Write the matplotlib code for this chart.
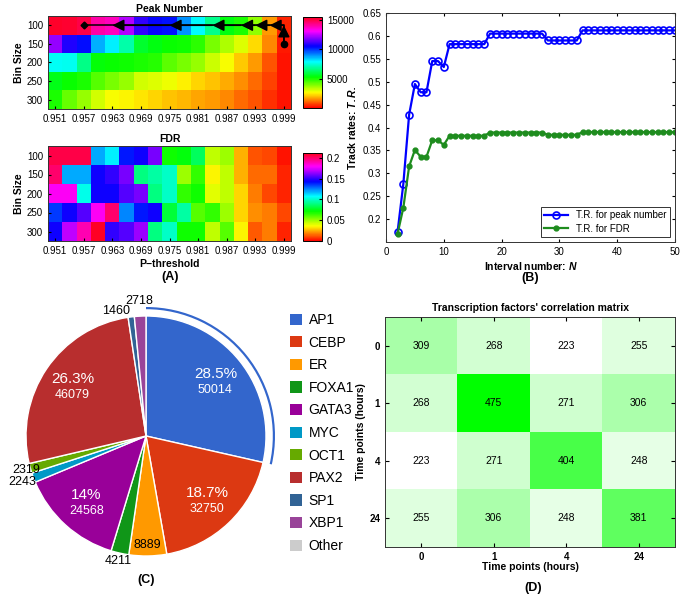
import numpy as np
import matplotlib
matplotlib.use('Agg')
import matplotlib.pyplot as plt
from matplotlib.colors import LinearSegmentedColormap
from matplotlib.patches import Wedge, Patch
from matplotlib.ticker import FuncFormatter

plt.rcParams['font.family'] = ['Liberation Sans', 'DejaVu Sans']
plt.rcParams['mathtext.fontset'] = 'custom'
plt.rcParams['mathtext.bfit'] = 'Liberation Sans:italic:bold'
plt.rcParams['mathtext.it'] = 'Liberation Sans:italic'
plt.rcParams['mathtext.bf'] = 'Liberation Sans:bold'
plt.rcParams['mathtext.rm'] = 'Liberation Sans'

# ---------------- data ----------------
p_thresholds = [0.951, 0.954, 0.957, 0.960, 0.963, 0.966, 0.969, 0.972, 0.975,
                0.978, 0.981, 0.984, 0.987, 0.990, 0.993, 0.996, 0.999]
p_tick_labels = ['0.951', '0.957', '0.963', '0.969', '0.975', '0.981', '0.987', '0.993', '0.999']
bin_sizes = [100, 150, 200, 250, 300]

peak_number = [
    [15300, 15200, 15000, 14000, 13800, 12300, 11000, 10500, 10300, 9000, 7900, 6700, 5400, 5000, 3800, 1600, 400],
    [12000, 10800, 10400, 8700, 8000, 7000, 5700, 5400, 5200, 5100, 4800, 4000, 3500, 3000, 2300, 1400, 300],
    [7800, 7700, 6600, 5300, 5200, 5100, 5000, 4900, 4300, 4000, 3700, 3200, 2700, 2100, 1600, 900, 200],
    [5500, 5200, 5000, 4400, 4000, 3700, 3100, 3000, 2800, 2500, 2200, 2000, 1800, 1500, 1100, 700, 200],
    [5000, 4200, 3700, 3100, 2700, 2600, 2400, 2200, 2000, 1900, 1700, 1600, 1400, 1100, 900, 500, 200],
]
fdr = [
    [0.205, 0.205, 0.205, 0.120, 0.110, 0.140, 0.145, 0.160, 0.070, 0.073, 0.085, 0.045, 0.050, 0.025, 0.012, 0.010, 0.003],
    [0.200, 0.120, 0.120, 0.145, 0.150, 0.160, 0.090, 0.095, 0.100, 0.050, 0.065, 0.035, 0.045, 0.025, 0.015, 0.015, 0.005],
    [0.180, 0.180, 0.105, 0.145, 0.145, 0.155, 0.160, 0.090, 0.100, 0.065, 0.070, 0.040, 0.045, 0.030, 0.018, 0.010, 0.005],
    [0.135, 0.145, 0.155, 0.180, 0.200, 0.125, 0.140, 0.145, 0.080, 0.095, 0.060, 0.065, 0.050, 0.030, 0.020, 0.018, 0.010],
    [0.145, 0.170, 0.190, 0.210, 0.150, 0.155, 0.165, 0.090, 0.100, 0.070, 0.070, 0.045, 0.060, 0.035, 0.013, 0.018, 0.005],
]
path_threshold = [0.999, 0.999, 0.996, 0.993, 0.990, 0.984, 0.975, 0.963, 0.957]
path_bin = [150, 100, 100, 100, 100, 100, 100, 100, 100]

interval_n = [2, 3, 4, 5, 6, 7, 8, 9, 10, 11, 12, 13, 14, 15, 16, 17, 18, 19, 20, 21, 22, 23, 24, 25, 26,
              27, 28, 29, 30, 31, 32, 33, 34, 35, 36, 37, 38, 39, 40, 41, 42, 43, 44, 45, 46, 47, 48, 49, 50]
tr_peak = [0.172, 0.277, 0.428, 0.495, 0.477, 0.477, 0.545, 0.545, 0.532,
           0.582, 0.582, 0.582, 0.582, 0.582, 0.582, 0.582,
           0.605, 0.605, 0.605, 0.605, 0.605, 0.605, 0.605, 0.605, 0.605, 0.605,
           0.590, 0.590, 0.590, 0.590, 0.590, 0.590,
           0.612, 0.612, 0.612, 0.612, 0.612, 0.612, 0.612, 0.612, 0.612, 0.612, 0.612, 0.612, 0.612, 0.612, 0.612, 0.612, 0.612]
tr_fdr = [0.168, 0.225, 0.315, 0.351, 0.336, 0.336, 0.372, 0.372, 0.362,
          0.382, 0.382, 0.382, 0.382, 0.382, 0.382, 0.382,
          0.389, 0.389, 0.389, 0.389, 0.389, 0.389, 0.389, 0.389, 0.389, 0.389,
          0.384, 0.384, 0.384, 0.384, 0.384, 0.384,
          0.390, 0.390, 0.390, 0.390, 0.390, 0.390, 0.390, 0.390, 0.390, 0.390, 0.390, 0.390, 0.390, 0.390, 0.390, 0.390, 0.390]

tf_names = ['AP1', 'CEBP', 'ER', 'FOXA1', 'GATA3', 'MYC', 'OCT1', 'PAX2', 'SP1', 'XBP1', 'Other']
tf_counts = [50014, 32750, 8889, 4211, 24568, 2243, 2319, 46079, 1460, 2718, 0]
tf_colors = ['#3366cc', '#dc3912', '#ff9900', '#109618', '#990099', '#0099c6',
             '#66aa00', '#b82e2e', '#316395', '#994499', '#cccccc']

time_points = ['0', '1', '4', '24']
corr_matrix = [[309, 268, 223, 255],
               [268, 475, 271, 306],
               [223, 271, 404, 248],
               [255, 306, 248, 381]]

# ---------------- figure ----------------
W, H = 685, 597
fig = plt.figure(figsize=(W / 100, H / 100), dpi=100)


def ax_px(l, t, r, b):
    return fig.add_axes([l / W, 1 - b / H, (r - l) / W, (b - t) / H])


TICK_FS = 7
LAB_FS = 7.5


def matlab_style(ax):
    ax.tick_params(direction='in', length=2.5, labelsize=TICK_FS, top=False, right=False)
    for s in ax.spines.values():
        s.set_linewidth(0.7)
        s.set_color('#333333')


# ---- Panel A ----
pt = np.array(p_thresholds)
xe = np.concatenate(([pt[0] - 0.0015], pt + 0.0015))
bs = np.array(bin_sizes)
ye = np.concatenate(([bs[0] - 25], bs + 25))

axA1 = ax_px(48, 16, 291, 109)
mA1 = axA1.pcolormesh(xe, ye, np.array(peak_number), cmap='hsv', vmin=0, vmax=15500)
axA1.set_xlim(xe[0], xe[-1])
axA1.set_ylim(ye[-1], ye[0])
axA1.set_xticks([float(v) for v in p_tick_labels])
axA1.set_xticklabels(p_tick_labels)
axA1.set_yticks(bin_sizes)
axA1.set_ylabel('Bin Size', fontsize=LAB_FS, fontweight='bold', labelpad=2)
axA1.set_title('Peak Number', fontsize=LAB_FS, fontweight='bold', pad=3)
matlab_style(axA1)
# path with arrows
axA1.plot(path_threshold, path_bin, color='black', lw=1.1, zorder=3)
axA1.plot(path_threshold[0], path_bin[0], 'o', color='black', ms=4.5, zorder=4)
axA1.plot(path_threshold[-1], path_bin[-1], 'D', color='black', ms=3.5, zorder=4)
for i in range(len(path_threshold) - 2):
    axA1.annotate('', xy=(path_threshold[i + 1], path_bin[i + 1]),
                  xytext=(path_threshold[i], path_bin[i]),
                  arrowprops=dict(arrowstyle='-|>,head_length=0.7,head_width=0.35',
                                  color='black', lw=1.1, shrinkA=0, shrinkB=0), zorder=4)

cbA1 = ax_px(303, 17, 322, 108)
cb1 = fig.colorbar(mA1, cax=cbA1, ticks=[5000, 10000, 15000])
cbA1.tick_params(labelsize=TICK_FS, direction='in', length=2)
cb1.outline.set_linewidth(0.7)

axA2 = ax_px(48, 146, 291, 241)
mA2 = axA2.pcolormesh(xe, ye, np.array(fdr), cmap='hsv', vmin=0, vmax=0.212)
axA2.set_xlim(xe[0], xe[-1])
axA2.set_ylim(ye[-1], ye[0])
axA2.set_xticks([float(v) for v in p_tick_labels])
axA2.set_xticklabels(p_tick_labels)
axA2.set_yticks(bin_sizes)
axA2.set_ylabel('Bin Size', fontsize=LAB_FS, fontweight='bold', labelpad=2)
axA2.set_xlabel('P\u2212threshold', fontsize=LAB_FS, fontweight='bold', labelpad=2)
axA2.set_title('FDR', fontsize=LAB_FS, fontweight='bold', pad=3)
matlab_style(axA2)

cbA2 = ax_px(303, 153, 322, 241)
cb2 = fig.colorbar(mA2, cax=cbA2, ticks=[0, 0.05, 0.1, 0.15, 0.2])
cbA2.set_yticklabels(['0', '0.05', '0.1', '0.15', '0.2'])
cbA2.tick_params(labelsize=TICK_FS, direction='in', length=2)
cb2.outline.set_linewidth(0.7)

fig.text(170 / W, 1 - 277 / H, '(A)', ha='center', va='center', fontsize=9, fontweight='bold')

# ---- Panel B ----
axB = ax_px(386, 13, 675, 242)
axB.plot(interval_n, tr_peak, '-o', color='#0000ff', lw=1.6, ms=5, mfc='none', mew=1.2,
         label='T.R. for peak number')
axB.plot(interval_n, tr_fdr, '-o', color='#1e8c1e', lw=1.6, ms=3.5, mfc='#1e8c1e',
         label='T.R. for FDR')
axB.set_xlim(0, 50)
axB.set_ylim(0.15, 0.65)
axB.set_yticks([0.2, 0.25, 0.3, 0.35, 0.4, 0.45, 0.5, 0.55, 0.6, 0.65])
axB.yaxis.set_major_formatter(FuncFormatter(lambda v, p: '%g' % round(v, 2)))
axB.set_xticks([0, 10, 20, 30, 40, 50])
matlab_style(axB)
axB.tick_params(top=True, right=True)
axB.set_xlabel(r'Interval number: $\mathbfit{N}$', fontsize=LAB_FS, fontweight='bold', labelpad=2)
axB.set_ylabel(r'Track rates: $\mathbfit{T.R.}$', fontsize=LAB_FS, fontweight='bold', labelpad=3)
legB = axB.legend(loc='lower right', fontsize=7, frameon=True, fancybox=False,
                  edgecolor='black', borderpad=0.35, handlelength=2.5, labelspacing=0.35)
legB.get_frame().set_linewidth(0.7)
fig.text(530 / W, 1 - 278 / H, '(B)', ha='center', va='center', fontsize=9, fontweight='bold')

# ---- Panel C ----
axC = ax_px(11, 301, 281, 571)
R = 120.0
vals = np.array(tf_counts, dtype=float)
mask = vals > 0
pie_vals = vals[mask]
pie_cols = [c for c, m in zip(tf_colors, mask) if m]
axC.pie(pie_vals, colors=pie_cols, startangle=90, counterclock=False, radius=R,
        wedgeprops=dict(edgecolor='white', linewidth=1.0))
axC.set_xlim(-135, 135)
axC.set_ylim(-135, 135)
axC.set_aspect('equal')
axC.axis('off')

total = pie_vals.sum()
fracs = pie_vals / total
cum = np.concatenate(([0], np.cumsum(fracs)))
pie_names = [n for n, m in zip(tf_names, mask) if m]
big_label_r = 0.74
# label radius and horizontal alignment for the small slices
small_label_style = {'ER': (0.91, 'center'), 'FOXA1': (1.07, 'center'),
                     'MYC': (1.10, 'center'), 'OCT1': (1.04, 'center'),
                     'SP1': (1.05, 'right'), 'XBP1': (1.13, 'center')}
for i, name in enumerate(pie_names):
    mid = np.deg2rad(90 - 360 * (cum[i] + fracs[i] / 2))
    pct = fracs[i] * 100
    if pct > 10:
        x, y = big_label_r * R * np.cos(mid), big_label_r * R * np.sin(mid)
        axC.text(x, y + 7, '%g%%' % round(pct, 1), color='white', fontsize=11,
                 ha='center', va='center')
        axC.text(x, y - 9, '%d' % pie_vals[i], color='white', fontsize=9,
                 ha='center', va='center')
    else:
        rf, ha = small_label_style[name]
        x, y = rf * R * np.cos(mid), rf * R * np.sin(mid)
        axC.text(x, y, '%d' % pie_vals[i], color='black', fontsize=9, ha=ha, va='center')

# highlight ring for first slice
theta_end = 90 - 360 * fracs[0]
axC.add_patch(Wedge((0, 0), R + 9, theta_end, 90, width=2.2, color=pie_cols[0], lw=0))

handles = [Patch(facecolor=c, edgecolor='none') for c in tf_colors]
fig.legend(handles, tf_names, loc='upper left', bbox_to_anchor=(283 / W, 1 - 306 / H),
           frameon=False, fontsize=10, handlelength=0.85, handleheight=0.85,
           labelspacing=0.62, handletextpad=0.5, borderpad=0)
fig.text(146 / W, 1 - 580 / H, '(C)', ha='center', va='center', fontsize=9, fontweight='bold')

# ---- Panel D ----
axD = ax_px(385, 317, 675, 547)
cmapD = LinearSegmentedColormap.from_list('wg', ['#ffffff', '#00ff00'])
cm = np.array(corr_matrix, dtype=float)
axD.imshow(cm, cmap=cmapD, vmin=cm.min(), vmax=cm.max(), aspect='auto',
           interpolation='nearest')
for i in range(cm.shape[0]):
    for j in range(cm.shape[1]):
        axD.text(j, i, '%d' % cm[i, j], ha='center', va='center', fontsize=7.5)
axD.set_xticks(range(len(time_points)))
axD.set_xticklabels(time_points, fontweight='bold')
axD.set_yticks(range(len(time_points)))
axD.set_yticklabels(time_points, fontweight='bold')
matlab_style(axD)
axD.tick_params(top=True, right=True, length=3)
axD.set_xlabel('Time points (hours)', fontsize=LAB_FS, fontweight='bold', labelpad=0)
axD.set_ylabel('Time points (hours)', fontsize=LAB_FS, fontweight='bold', labelpad=2)
axD.set_title("Transcription factors' correlation matrix", fontsize=LAB_FS,
              fontweight='bold', pad=4)
fig.text(533 / W, 1 - 588 / H, '(D)', ha='center', va='center', fontsize=9, fontweight='bold')

fig.savefig('out.png', dpi=100)
